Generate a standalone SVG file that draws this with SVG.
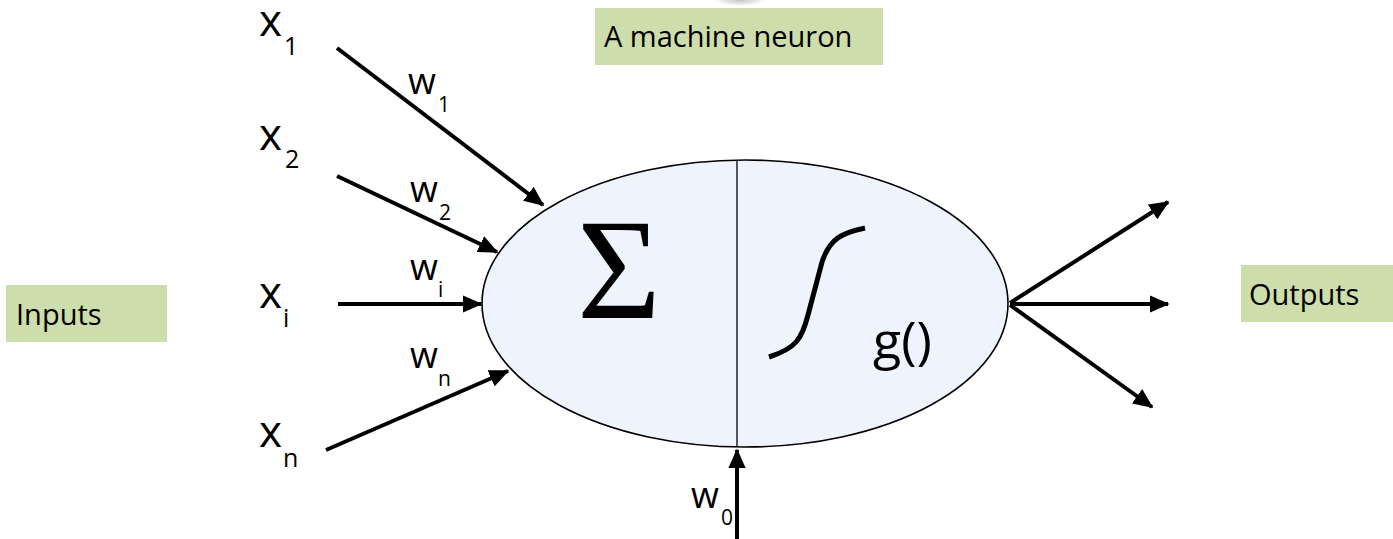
<svg xmlns="http://www.w3.org/2000/svg" width="1393" height="539" viewBox="0 0 1393 539">
<style>
.lbl{font-family:"Open Sans","Liberation Sans",sans-serif;fill:#000}
.box{fill:#CDDDAC}
.big{font-size:44px}
.sub{font-size:25px}
.wt{font-size:36px}
.wsub{font-size:21px}
.boxt{font-size:29px}
.conn{stroke:#000;stroke-width:4;fill:none;marker-end:url(#ah)}
</style>
<defs>
<marker id="ah" markerWidth="5" markerHeight="4.4" refX="4.6" refY="2.2" orient="auto" markerUnits="strokeWidth">
<path d="M0,0 L5,2.2 L0,4.4 Z" fill="#000"/>
</marker>
<radialGradient id="shadow" cx="0.5" cy="0.5" r="0.5">
<stop offset="0" stop-color="#999" stop-opacity="0.6"/>
<stop offset="1" stop-color="#999" stop-opacity="0"/>
</radialGradient>
</defs>
<rect width="1393" height="539" fill="#fff"/>
<ellipse cx="740" cy="0" rx="25" ry="6" fill="url(#shadow)"/>

<g id="title">
<rect class="box" x="595" y="8" width="288" height="57"/>
<text class="lbl boxt" x="604" y="47">A machine neuron</text>
</g>
<g id="inputs-label">
<rect class="box" x="6" y="285" width="161" height="57"/>
<text class="lbl boxt" x="16" y="325">Inputs</text>
</g>
<g id="outputs-label">
<rect class="box" x="1241" y="265" width="152" height="57"/>
<text class="lbl boxt" x="1249" y="305">Outputs</text>
</g>

<g id="neuron">
<ellipse cx="745" cy="303.5" rx="263" ry="143.5" fill="#EEF3FD" stroke="#000" stroke-width="1.6"/>
<line x1="737" y1="160" x2="737" y2="447" stroke="#000" stroke-width="1.3"/>
<text x="577" y="318" font-family="Liberation Serif,serif" font-size="144">Σ</text>
<path d="M769,357 C797,348 802,338 808,315 L822,262 C830,238 842,233 865,228" stroke="#000" stroke-width="5" fill="none"/>
<text class="lbl" x="873" y="359" font-size="52">g()</text>
</g>

<g id="x1"><text class="lbl big" x="259" y="36">x</text><text class="lbl sub" x="284" y="55">1</text></g>
<g id="x2"><text class="lbl big" x="259" y="150">x</text><text class="lbl sub" x="285" y="168">2</text></g>
<g id="xi"><text class="lbl big" x="259" y="308">x</text><text class="lbl sub" x="283" y="327">i</text></g>
<g id="xn"><text class="lbl big" x="259" y="447">x</text><text class="lbl sub" x="283" y="467">n</text></g>

<g id="weights">
<text class="lbl wt" x="408" y="94">w</text><text class="lbl wsub" x="438" y="112">1</text>
<text class="lbl wt" x="410" y="202">w</text><text class="lbl wsub" x="439" y="220">2</text>
<text class="lbl wt" x="410" y="280">w</text><text class="lbl wsub" x="438" y="297">i</text>
<text class="lbl wt" x="410" y="368">w</text><text class="lbl wsub" x="438" y="386">n</text>
<text class="lbl wt" x="691" y="508">w</text><text class="lbl wsub" x="721" y="525">0</text>
</g>

<g id="connectors">
<line class="conn" x1="337" y1="48" x2="543" y2="205"/>
<line class="conn" x1="337" y1="176" x2="497" y2="252"/>
<line class="conn" x1="338" y1="304" x2="481" y2="304"/>
<line class="conn" x1="326" y1="450" x2="508" y2="371"/>
<line class="conn" x1="737" y1="539" x2="737" y2="450"/>
<line class="conn" x1="1010" y1="303" x2="1168" y2="202"/>
<line class="conn" x1="1010" y1="304" x2="1168" y2="304"/>
<line class="conn" x1="1010" y1="305" x2="1152" y2="407"/>
</g>
</svg>
